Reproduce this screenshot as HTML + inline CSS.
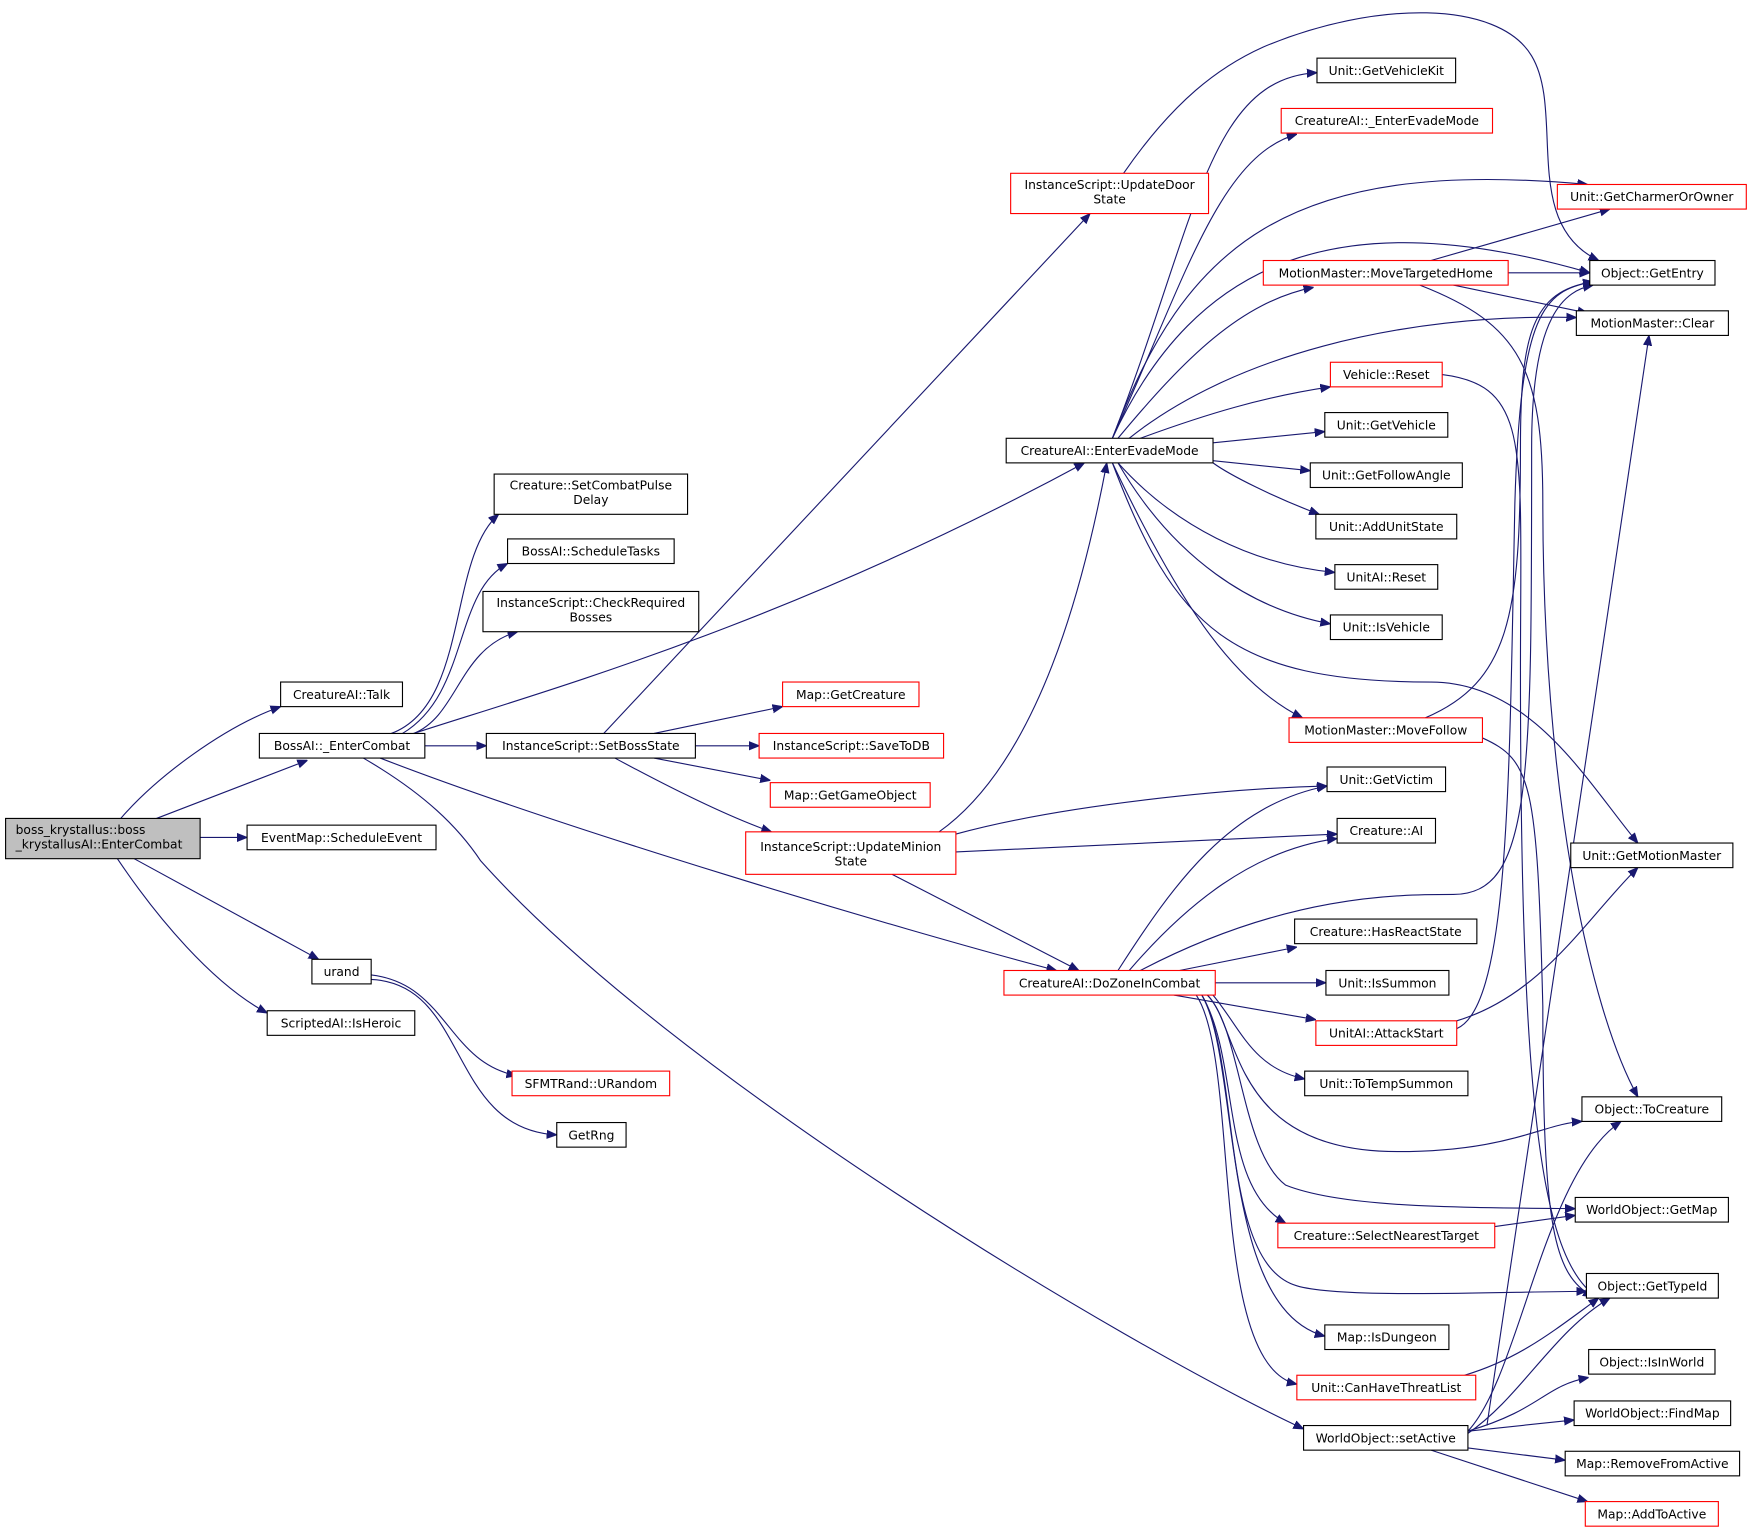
<!DOCTYPE html>
<html><head><meta charset="utf-8"><style>
html,body{margin:0;padding:0;background:#fff;}
svg{display:block;}
text{font-family:"DejaVu Sans","Liberation Sans",sans-serif;font-size:11px;fill:#000;}
.n{fill:#fff;stroke:#000;stroke-width:1;}
.r{fill:#fff;stroke:#f00;stroke-width:1;}
.e{fill:none;stroke:#191970;stroke-width:1;marker-end:url(#a);}
</style></head><body>
<svg width="1753" height="1534" viewBox="0 0 1568 1372" preserveAspectRatio="none" xmlns="http://www.w3.org/2000/svg">
<defs><marker id="a" viewBox="0 0 10 10" refX="10" refY="5" markerWidth="9" markerHeight="9" orient="auto" markerUnits="userSpaceOnUse"><path d="M0,1 L10,5 L0,9 z" fill="#191970" stroke="#191970"/></marker></defs>
<g>
<path class="e" d="M108,732 C140,695 200,650 251,632"/>
<path class="e" d="M140,732 L275,680"/>
<path class="e" d="M179,749 L221,749"/>
<path class="e" d="M120,768 L285,858"/>
<path class="e" d="M105,768 C140,820 190,880 239,906"/>
<path class="e" d="M350,656 C420,630 400,500 446,460"/>
<path class="e" d="M360,656 C420,620 405,530 454,504"/>
<path class="e" d="M370,656 C410,640 410,580 463,565"/>
<path class="e" d="M380,667 L435,667"/>
<path class="e" d="M370,656 C480,620 700,560 970,414"/>
<path class="e" d="M340,678 C500,740 800,830 945,868"/>
<path class="e" d="M325,678 C380,710 410,740 430,770 C600,960 1000,1200 1166,1278"/>
<path class="e" d="M332,872 C400,880 400,950 462,962"/>
<path class="e" d="M332,876 C420,880 400,1010 498,1015"/>
<path class="e" d="M540,656 L975,191"/>
<path class="e" d="M585,656 L700,632"/>
<path class="e" d="M622,667 L679,667"/>
<path class="e" d="M585,678 L689,698"/>
<path class="e" d="M550,678 C600,705 650,730 690,744"/>
<path class="e" d="M840,744 C930,680 970,520 990,414"/>
<path class="e" d="M855,746 C950,720 1100,705 1187,703"/>
<path class="e" d="M855,762 L1196,746"/>
<path class="e" d="M798,782 L965,868"/>
<path class="e" d="M1005,155 C1050,90 1090,60 1130,42 C1230,0 1340,0 1370,50 C1400,100 1360,200 1430,233"/>
<path class="e" d="M995,392 C1070,200 1080,70 1178,65"/>
<path class="e" d="M995,392 C1060,250 1090,140 1160,120"/>
<path class="e" d="M995,392 C1060,220 1150,140 1420,165"/>
<path class="e" d="M995,392 C1070,230 1200,180 1422,244"/>
<path class="e" d="M1000,392 C1060,320 1110,270 1175,257"/>
<path class="e" d="M1010,392 C1100,320 1250,280 1410,284"/>
<path class="e" d="M1020,392 C1080,370 1130,355 1190,346"/>
<path class="e" d="M1085,396 L1185,386"/>
<path class="e" d="M1085,412 L1172,421"/>
<path class="e" d="M1085,414 C1100,425 1140,445 1180,460"/>
<path class="e" d="M1000,414 C1050,470 1120,505 1194,512"/>
<path class="e" d="M1000,414 C1050,500 1120,545 1190,558"/>
<path class="e" d="M995,414 C1050,530 1100,610 1165,642"/>
<path class="e" d="M995,414 C1050,560 1100,610 1280,610 C1370,610 1420,700 1465,754"/>
<path class="e" d="M1280,233 L1440,187"/>
<path class="e" d="M1349,244 L1422,244"/>
<path class="e" d="M1300,255 L1420,280"/>
<path class="e" d="M1270,255 C1360,290 1380,330 1380,450 C1380,700 1420,900 1465,981"/>
<path class="e" d="M1290,335 C1370,345 1360,400 1360,600 C1360,1000 1380,1130 1430,1161"/>
<path class="e" d="M1275,642 C1350,610 1360,550 1360,400 C1360,300 1370,260 1425,252"/>
<path class="e" d="M1326,660 C1370,680 1375,700 1380,900 C1380,1100 1390,1140 1425,1160"/>
<path class="e" d="M1000,868 C1050,790 1100,720 1187,703"/>
<path class="e" d="M1010,868 C1060,810 1120,760 1196,750"/>
<path class="e" d="M1020,868 C1150,800 1250,800 1300,800 C1370,800 1370,700 1370,400 C1370,280 1400,260 1425,255"/>
<path class="e" d="M1055,868 L1160,847"/>
<path class="e" d="M1087,879 L1186,879"/>
<path class="e" d="M1050,890 L1177,912"/>
<path class="e" d="M1085,890 C1110,920 1120,955 1167,965"/>
<path class="e" d="M1080,890 C1110,920 1100,1030 1250,1030 C1350,1030 1380,1005 1415,1003"/>
<path class="e" d="M1080,890 C1110,920 1110,1030 1150,1060 C1200,1080 1300,1080 1409,1081"/>
<path class="e" d="M1075,890 C1110,950 1090,1060 1150,1094"/>
<path class="e" d="M1075,890 C1110,950 1090,1130 1160,1150 C1200,1162 1350,1155 1419,1155"/>
<path class="e" d="M1075,890 C1110,950 1090,1170 1185,1195"/>
<path class="e" d="M1070,890 C1110,950 1080,1220 1160,1238"/>
<path class="e" d="M1303,920 C1350,900 1350,700 1355,450 C1360,280 1380,260 1425,252"/>
<path class="e" d="M1303,913 C1380,890 1420,820 1465,776"/>
<path class="e" d="M1337,1097 L1409,1087"/>
<path class="e" d="M1310,1230 C1360,1215 1390,1190 1430,1161"/>
<path class="e" d="M1313,1280 C1360,1230 1380,1050 1450,1003"/>
<path class="e" d="M1313,1282 C1360,1250 1390,1190 1440,1161"/>
<path class="e" d="M1313,1280 C1380,1260 1380,1240 1421,1232"/>
<path class="e" d="M1313,1280 L1408,1270"/>
<path class="e" d="M1313,1295 L1400,1306"/>
<path class="e" d="M1280,1297 L1420,1343"/>
<path class="e" d="M1330,1275 L1475,300"/>
</g>
<g>
<rect x="5" y="732" width="174" height="36" fill="#bfbfbf" stroke="#000"/>
<text x="14" y="746">boss_krystallus::boss</text><text x="14" y="759">_krystallusAI::EnterCombat</text>
</g>
<g text-anchor="middle">
<rect class="n" x="251" y="610" width="109" height="22"/><text x="305.5" y="625">CreatureAI::Talk</text>
<rect class="n" x="232" y="656" width="148" height="22"/><text x="306" y="671">BossAI::_EnterCombat</text>
<rect class="n" x="221" y="738" width="169" height="22"/><text x="305.5" y="753">EventMap::ScheduleEvent</text>
<rect class="n" x="279" y="858" width="53" height="22"/><text x="305.5" y="873">urand</text>
<rect class="n" x="239" y="904" width="132" height="22"/><text x="305" y="919">ScriptedAI::IsHeroic</text>
<rect class="n" x="442" y="424" width="173" height="36"/><text x="528.5" y="438">Creature::SetCombatPulse</text><text x="528.5" y="451">Delay</text>
<rect class="n" x="454" y="482" width="149" height="22"/><text x="528.5" y="497">BossAI::ScheduleTasks</text>
<rect class="n" x="432" y="529" width="193" height="36"/><text x="528.5" y="543">InstanceScript::CheckRequired</text><text x="528.5" y="556">Bosses</text>
<rect class="n" x="435" y="656" width="187" height="22"/><text x="528.5" y="671">InstanceScript::SetBossState</text>
<rect class="r" x="458" y="958" width="141" height="22"/><text x="528.5" y="973">SFMTRand::URandom</text>
<rect class="n" x="498" y="1004" width="62" height="22"/><text x="529" y="1019">GetRng</text>
<rect class="r" x="700" y="610" width="122" height="22"/><text x="761" y="625">Map::GetCreature</text>
<rect class="r" x="679" y="656" width="165" height="22"/><text x="761.5" y="671">InstanceScript::SaveToDB</text>
<rect class="r" x="689" y="700" width="143" height="22"/><text x="760.5" y="715">Map::GetGameObject</text>
<rect class="r" x="667" y="744" width="188" height="38"/><text x="761" y="761">InstanceScript::UpdateMinion</text><text x="761" y="774">State</text>
<rect class="r" x="904" y="155" width="177" height="36"/><text x="992.5" y="169">InstanceScript::UpdateDoor</text><text x="992.5" y="182">State</text>
<rect class="n" x="900" y="392" width="185" height="22"/><text x="992.5" y="407">CreatureAI::EnterEvadeMode</text>
<rect class="r" x="898" y="868" width="189" height="22"/><text x="992.5" y="883">CreatureAI::DoZoneInCombat</text>
<rect class="n" x="1178" y="52" width="124" height="22"/><text x="1240" y="67">Unit::GetVehicleKit</text>
<rect class="r" x="1146" y="97" width="189" height="22"/><text x="1240.5" y="112">CreatureAI::_EnterEvadeMode</text>
<rect class="r" x="1130" y="233" width="219" height="22"/><text x="1239.5" y="248">MotionMaster::MoveTargetedHome</text>
<rect class="r" x="1190" y="324" width="100" height="22"/><text x="1240" y="339">Vehicle::Reset</text>
<rect class="n" x="1185" y="369" width="110" height="22"/><text x="1240" y="384">Unit::GetVehicle</text>
<rect class="n" x="1172" y="414" width="136" height="22"/><text x="1240" y="429">Unit::GetFollowAngle</text>
<rect class="n" x="1177" y="460" width="126" height="22"/><text x="1240" y="475">Unit::AddUnitState</text>
<rect class="n" x="1194" y="505" width="92" height="22"/><text x="1240" y="520">UnitAI::Reset</text>
<rect class="n" x="1190" y="550" width="100" height="22"/><text x="1240" y="565">Unit::IsVehicle</text>
<rect class="r" x="1153" y="642" width="173" height="22"/><text x="1239.5" y="657">MotionMaster::MoveFollow</text>
<rect class="n" x="1187" y="686" width="106" height="22"/><text x="1240" y="701">Unit::GetVictim</text>
<rect class="n" x="1196" y="732" width="88" height="22"/><text x="1240" y="747">Creature::AI</text>
<rect class="n" x="1158" y="822" width="163" height="22"/><text x="1239.5" y="837">Creature::HasReactState</text>
<rect class="n" x="1186" y="868" width="110" height="22"/><text x="1241" y="883">Unit::IsSummon</text>
<rect class="r" x="1177" y="913" width="126" height="22"/><text x="1240" y="928">UnitAI::AttackStart</text>
<rect class="n" x="1167" y="958" width="146" height="22"/><text x="1240" y="973">Unit::ToTempSummon</text>
<rect class="r" x="1143" y="1094" width="194" height="22"/><text x="1240" y="1109">Creature::SelectNearestTarget</text>
<rect class="n" x="1185" y="1185" width="111" height="22"/><text x="1240.5" y="1200">Map::IsDungeon</text>
<rect class="r" x="1160" y="1230" width="160" height="22"/><text x="1240" y="1245">Unit::CanHaveThreatList</text>
<rect class="n" x="1166" y="1275" width="147" height="22"/><text x="1239.5" y="1290">WorldObject::setActive</text>
<rect class="r" x="1393" y="165" width="169" height="22"/><text x="1477.5" y="180">Unit::GetCharmerOrOwner</text>
<rect class="n" x="1422" y="233" width="112" height="22"/><text x="1478" y="248">Object::GetEntry</text>
<rect class="n" x="1410" y="278" width="136" height="22"/><text x="1478" y="293">MotionMaster::Clear</text>
<rect class="n" x="1405" y="754" width="145" height="22"/><text x="1477.5" y="769">Unit::GetMotionMaster</text>
<rect class="n" x="1415" y="981" width="125" height="22"/><text x="1477.5" y="996">Object::ToCreature</text>
<rect class="n" x="1409" y="1071" width="137" height="22"/><text x="1477.5" y="1086">WorldObject::GetMap</text>
<rect class="n" x="1419" y="1139" width="118" height="22"/><text x="1478" y="1154">Object::GetTypeId</text>
<rect class="n" x="1421" y="1207" width="113" height="22"/><text x="1477.5" y="1222">Object::IsInWorld</text>
<rect class="n" x="1408" y="1253" width="140" height="22"/><text x="1478" y="1268">WorldObject::FindMap</text>
<rect class="n" x="1400" y="1298" width="156" height="22"/><text x="1478" y="1313">Map::RemoveFromActive</text>
<rect class="r" x="1418" y="1343" width="119" height="22"/><text x="1477.5" y="1358">Map::AddToActive</text>
</g>
</svg>
</body></html>
